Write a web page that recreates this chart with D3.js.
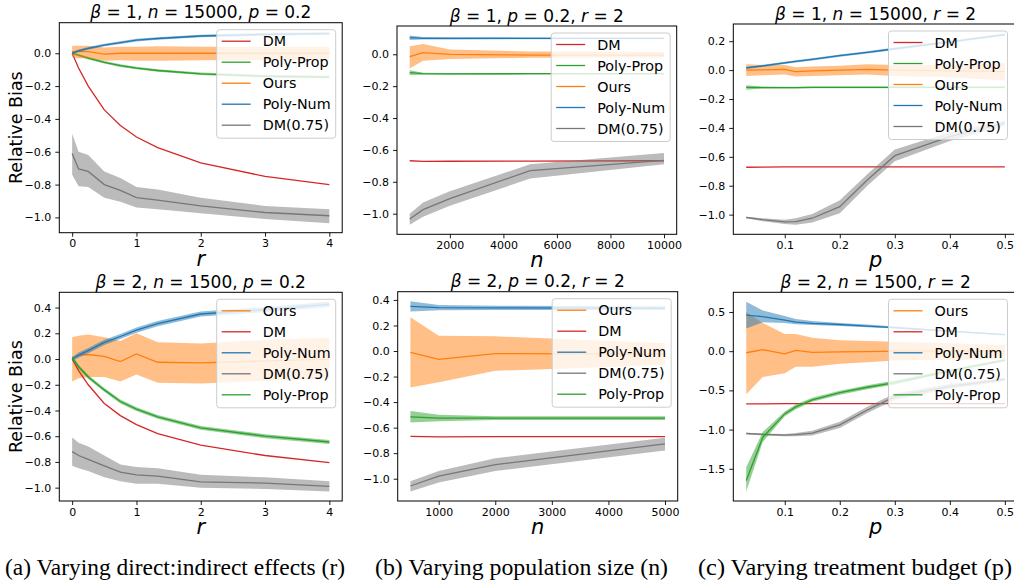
<!DOCTYPE html>
<html>
<head>
<meta charset="utf-8">
<script src="https://cdn.jsdelivr.net/npm/d3@7"></script>
<style>
  body { margin: 0; background: #fff; }
  svg text { font-family: "DejaVu Sans", sans-serif; fill: #000; }
</style>
</head>
<body>
<svg id="fig" width="1014" height="582"></svg>
<script>
// x values
const rVals = [0, 0.1, 0.25, 0.5, 0.75, 1, 1.33, 2, 3, 4];
const nValsTop = [500, 1000, 2000, 5000, 10000];
const nValsBot = [500, 1000, 2000, 5000];
const pVals = [0.03, 0.06, 0.1, 0.12, 0.15, 0.2, 0.25, 0.3, 0.4, 0.5];

// (a) top: beta=1, n=15000, p=0.2
const a1DM = [0, -0.09, -0.2, -0.345, -0.44, -0.51, -0.575, -0.668, -0.75, -0.80];
const a1PP = [0, -0.012, -0.03, -0.055, -0.075, -0.09, -0.105, -0.125, -0.14, -0.145];
const a1PPlo = [-0.008, -0.02, -0.038, -0.063, -0.083, -0.098, -0.113, -0.133, -0.148, -0.153];
const a1PPhi = [0.008, -0.004, -0.022, -0.047, -0.067, -0.082, -0.097, -0.117, -0.132, -0.137];
const a1Ours = [0.01, 0.012, 0.01, -0.005, 0.0, 0.0, 0.0, 0.0, 0.0, 0.0];
const a1OursLo = [-0.025, -0.03, -0.03, -0.045, -0.042, -0.045, -0.045, -0.043, -0.042, -0.042];
const a1OursHi = [0.045, 0.045, 0.045, 0.035, 0.04, 0.04, 0.042, 0.04, 0.04, 0.04];
const a1PN = [0, 0.015, 0.03, 0.05, 0.065, 0.08, 0.09, 0.105, 0.115, 0.12];
const a1PNlo = [-0.008, 0.007, 0.022, 0.042, 0.057, 0.072, 0.082, 0.097, 0.107, 0.112];
const a1PNhi = [0.008, 0.023, 0.038, 0.058, 0.073, 0.088, 0.098, 0.113, 0.123, 0.128];
const a1DM75 = [-0.61, -0.705, -0.72, -0.80, -0.835, -0.88, -0.895, -0.93, -0.97, -0.99];
const a1DM75lo = [-0.74, -0.81, -0.815, -0.88, -0.905, -0.94, -0.95, -0.975, -1.01, -1.035];
const a1DM75hi = [-0.49, -0.60, -0.62, -0.72, -0.76, -0.815, -0.83, -0.88, -0.93, -0.95];

// (b) top: beta=1, p=0.2, r=2
const b1DM = [-0.668, -0.672, -0.671, -0.67, -0.668];
const b1PP = [-0.115, -0.122, -0.123, -0.122, -0.122];
const b1PPlo = [-0.13, -0.128, -0.128, -0.127, -0.127];
const b1PPhi = [-0.10, -0.116, -0.118, -0.117, -0.117];
const b1Ours = [-0.015, 0.01, 0.0, -0.005, -0.005];
const b1OursLo = [-0.09, -0.04, -0.03, -0.022, -0.02];
const b1OursHi = [0.05, 0.065, 0.03, 0.018, 0.015];
const b1PN = [0.105, 0.1, 0.1, 0.1, 0.1];
const b1PNlo = [0.09, 0.093, 0.093, 0.094, 0.094];
const b1PNhi = [0.118, 0.108, 0.107, 0.106, 0.106];
const b1DM75 = [-1.033, -0.975, -0.905, -0.73, -0.665];
const b1DM75lo = [-1.07, -1.02, -0.95, -0.78, -0.69];
const b1DM75hi = [-1.0, -0.93, -0.86, -0.69, -0.62];

// (c) top: beta=1, n=15000, r=2
const c1DM = [-0.672, -0.671, -0.67, -0.67, -0.67, -0.67, -0.67, -0.67, -0.67, -0.67];
const c1PP = [-0.12, -0.121, -0.121, -0.121, -0.12, -0.12, -0.12, -0.12, -0.12, -0.12];
const c1PPlo = [-0.135, -0.128, -0.127, -0.127, -0.126, -0.126, -0.126, -0.126, -0.126, -0.126];
const c1PPhi = [-0.105, -0.114, -0.115, -0.115, -0.114, -0.114, -0.114, -0.114, -0.114, -0.114];
const c1Ours = [0.0, 0.002, 0.005, -0.01, -0.005, 0.0, 0.005, 0.0, -0.005, -0.01];
const c1OursLo = [-0.04, -0.035, -0.03, -0.045, -0.04, -0.035, -0.03, -0.04, -0.05, -0.072];
const c1OursHi = [0.04, 0.035, 0.035, 0.02, 0.025, 0.03, 0.04, 0.035, 0.035, 0.05];
const c1PN = [0.015, 0.03, 0.05, 0.06, 0.075, 0.1, 0.123, 0.148, 0.195, 0.245];
const c1PNlo = [0.007, 0.022, 0.042, 0.052, 0.067, 0.092, 0.115, 0.14, 0.187, 0.237];
const c1PNhi = [0.023, 0.038, 0.058, 0.068, 0.083, 0.108, 0.131, 0.156, 0.203, 0.253];
const c1DM75 = [-1.02, -1.035, -1.05, -1.048, -1.025, -0.945, -0.76, -0.592, -0.46, -0.367];
const c1DM75lo = [-1.025, -1.045, -1.065, -1.07, -1.055, -0.99, -0.8, -0.63, -0.49, -0.385];
const c1DM75hi = [-1.015, -1.025, -1.035, -1.025, -0.995, -0.9, -0.72, -0.55, -0.43, -0.35];

// (a) bottom: beta=2, n=1500, p=0.2
const a2Ours = [0.0, 0.03, 0.035, 0.02, -0.02, 0.04, -0.025, -0.03, -0.015, 0.0];
const a2OursLo = [-0.175, -0.15, -0.14, -0.14, -0.175, -0.12, -0.185, -0.19, -0.17, -0.15];
const a2OursHi = [0.17, 0.18, 0.19, 0.17, 0.14, 0.2, 0.13, 0.12, 0.15, 0.165];
const a2DM = [0, -0.09, -0.2, -0.345, -0.44, -0.51, -0.58, -0.67, -0.75, -0.805];
const a2PN = [0.0, 0.03, 0.065, 0.13, 0.175, 0.225, 0.275, 0.35, 0.385, 0.425];
const a2PNlo = [-0.015, 0.01, 0.045, 0.11, 0.155, 0.205, 0.255, 0.33, 0.365, 0.405];
const a2PNhi = [0.015, 0.05, 0.085, 0.15, 0.195, 0.245, 0.295, 0.37, 0.405, 0.445];
const a2DM75 = [-0.72, -0.75, -0.78, -0.83, -0.88, -0.90, -0.91, -0.955, -0.965, -0.99];
const a2DM75lo = [-0.83, -0.85, -0.87, -0.92, -0.95, -0.97, -0.97, -1.0, -1.01, -1.03];
const a2DM75hi = [-0.61, -0.65, -0.68, -0.75, -0.82, -0.84, -0.85, -0.9, -0.92, -0.95];
const a2PP = [0.01, -0.06, -0.14, -0.24, -0.33, -0.39, -0.45, -0.535, -0.6, -0.645];
const a2PPlo = [-0.005, -0.075, -0.155, -0.255, -0.345, -0.405, -0.465, -0.55, -0.615, -0.66];
const a2PPhi = [0.025, -0.045, -0.125, -0.225, -0.315, -0.375, -0.435, -0.52, -0.585, -0.63];

// (b) bottom: beta=2, p=0.2, r=2
const b2Ours = [-0.01, -0.065, -0.02, -0.025];
const b2OursLo = [-0.285, -0.245, -0.155, -0.11];
const b2OursHi = [0.265, 0.12, 0.115, 0.06];
const b2DM = [-0.668, -0.673, -0.671, -0.67];
const b2PN = [0.35, 0.34, 0.338, 0.335];
const b2PNlo = [0.31, 0.32, 0.322, 0.322];
const b2PNhi = [0.39, 0.36, 0.355, 0.35];
const b2DM75 = [-1.057, -0.98, -0.89, -0.727];
const b2DM75lo = [-1.1, -1.03, -0.94, -0.78];
const b2DM75hi = [-1.02, -0.94, -0.84, -0.68];
const b2PP = [-0.515, -0.525, -0.525, -0.525];
const b2PPlo = [-0.56, -0.55, -0.54, -0.54];
const b2PPhi = [-0.47, -0.5, -0.51, -0.51];

// (c) bottom: beta=2, n=1500, r=2
const c2Ours = [-0.02, 0.02, -0.035, 0.01, -0.015, -0.01, -0.005, 0.0, 0.0, 0.0];
const c2OursLo = [-0.55, -0.33, -0.28, -0.2, -0.2, -0.16, -0.14, -0.12, -0.11, -0.1];
const c2OursHi = [0.5, 0.36, 0.22, 0.22, 0.17, 0.14, 0.13, 0.12, 0.1, 0.08];
const c2DM = [-0.672, -0.671, -0.67, -0.67, -0.67, -0.67, -0.67, -0.67, -0.67, -0.67];
const c2PN = [0.46, 0.44, 0.396, 0.37, 0.355, 0.34, 0.32, 0.3, 0.255, 0.21];
const c2PNlo = [0.29, 0.37, 0.36, 0.345, 0.335, 0.32, 0.305, 0.29, 0.245, 0.2];
const c2PNhi = [0.63, 0.52, 0.45, 0.41, 0.385, 0.36, 0.34, 0.315, 0.265, 0.22];
const c2DM75 = [-1.05, -1.06, -1.07, -1.065, -1.045, -0.94, -0.75, -0.58, -0.45, -0.36];
const c2DM75lo = [-1.06, -1.075, -1.085, -1.085, -1.075, -0.98, -0.79, -0.62, -0.48, -0.38];
const c2DM75hi = [-1.04, -1.05, -1.055, -1.045, -1.015, -0.9, -0.71, -0.54, -0.42, -0.34];
const c2PP = [-1.65, -1.1, -0.8, -0.71, -0.62, -0.53, -0.46, -0.4, -0.25, -0.115];
const c2PPlo = [-1.79, -1.16, -0.83, -0.74, -0.645, -0.555, -0.485, -0.425, -0.27, -0.13];
const c2PPhi = [-1.48, -1.03, -0.77, -0.68, -0.595, -0.505, -0.435, -0.375, -0.23, -0.1];

// tick labels
const rTicks = [0, 1, 2, 3, 4];
const nTicksTop = [2000, 4000, 6000, 8000, 10000];
const nTicksBot = [1000, 2000, 3000, 4000, 5000];
const pTicks = [0.1, 0.2, 0.3, 0.4, 0.5];
const yTicks1 = [0, -0.2, -0.4, -0.6, -0.8, -1.0];
const yTicks3 = [0.2, 0, -0.2, -0.4, -0.6, -0.8, -1.0];
const yTicks4 = [0.4, 0.2, 0, -0.2, -0.4, -0.6, -0.8, -1.0];
const yTicks6 = [0.5, 0, -0.5, -1.0, -1.5];

const captions = ["(a) Varying direct:indirect effects (r)", "(b) Varying population size (n)", "(c) Varying treatment budget (p)"];

const colours = {
  "DM": "#d62728", "Poly-Prop": "#2ca02c", "Ours": "#ff7f0e",
  "Poly-Num": "#1f77b4", "DM(0.75)": "#777777"
};

const svg = d3.select("#fig");

function S(name, mean, lo, hi) { return { name, mean, lo, hi }; }

const panels = [
  { box: [59.3, 342.2, 22.7, 232.7], xs: rVals, xTicks: rTicks, xFmt: d3.format("d"), yTicks: yTicks1, yFmt: d3.format(".1f"),
    title: [["β", 1], [" = 1, ", 0], ["n", 1], [" = 15000, ", 0], ["p", 1], [" = 0.2", 0]], xLabel: "r", yLabel: true,
    series: [S("DM", a1DM), S("Poly-Prop", a1PP, a1PPlo, a1PPhi), S("Ours", a1Ours, a1OursLo, a1OursHi),
             S("Poly-Num", a1PN, a1PNlo, a1PNhi), S("DM(0.75)", a1DM75, a1DM75lo, a1DM75hi)] },
  { box: [397.0, 676.7, 26, 234.3], xs: nValsTop, xTicks: nTicksTop, xFmt: d3.format("d"), yTicks: yTicks1, yFmt: d3.format(".1f"),
    title: [["β", 1], [" = 1, ", 0], ["p", 1], [" = 0.2, ", 0], ["r", 1], [" = 2", 0]], xLabel: "n", yLabel: false,
    series: [S("DM", b1DM), S("Poly-Prop", b1PP, b1PPlo, b1PPhi), S("Ours", b1Ours, b1OursLo, b1OursHi),
             S("Poly-Num", b1PN, b1PNlo, b1PNhi), S("DM(0.75)", b1DM75, b1DM75lo, b1DM75hi)] },
  { box: [733.3, 1017.8, 24, 234.3], xs: pVals, xTicks: pTicks, xFmt: d3.format(".1f"), yTicks: yTicks3, yFmt: d3.format(".1f"),
    title: [["β", 1], [" = 1, ", 0], ["n", 1], [" = 15000, ", 0], ["r", 1], [" = 2", 0]], xLabel: "p", yLabel: false,
    series: [S("DM", c1DM), S("Poly-Prop", c1PP, c1PPlo, c1PPhi), S("Ours", c1Ours, c1OursLo, c1OursHi),
             S("Poly-Num", c1PN, c1PNlo, c1PNhi), S("DM(0.75)", c1DM75, c1DM75lo, c1DM75hi)] },
  { box: [59.3, 342.2, 292.3, 501], xs: rVals, xTicks: rTicks, xFmt: d3.format("d"), yTicks: yTicks4, yFmt: d3.format(".1f"),
    title: [["β", 1], [" = 2, ", 0], ["n", 1], [" = 1500, ", 0], ["p", 1], [" = 0.2", 0]], xLabel: "r", yLabel: true,
    series: [S("Ours", a2Ours, a2OursLo, a2OursHi), S("DM", a2DM), S("Poly-Num", a2PN, a2PNlo, a2PNhi),
             S("DM(0.75)", a2DM75, a2DM75lo, a2DM75hi), S("Poly-Prop", a2PP, a2PPlo, a2PPhi)] },
  { box: [397.7, 677.7, 291.7, 501], xs: nValsBot, xTicks: nTicksBot, xFmt: d3.format("d"), yTicks: yTicks4, yFmt: d3.format(".1f"),
    title: [["β", 1], [" = 2, ", 0], ["p", 1], [" = 0.2, ", 0], ["r", 1], [" = 2", 0]], xLabel: "n", yLabel: false,
    series: [S("Ours", b2Ours, b2OursLo, b2OursHi), S("DM", b2DM), S("Poly-Num", b2PN, b2PNlo, b2PNhi),
             S("DM(0.75)", b2DM75, b2DM75lo, b2DM75hi), S("Poly-Prop", b2PP, b2PPlo, b2PPhi)] },
  { box: [733.3, 1017.8, 292.3, 501], xs: pVals, xTicks: pTicks, xFmt: d3.format(".1f"), yTicks: yTicks6, yFmt: d3.format(".1f"),
    title: [["β", 1], [" = 2, ", 0], ["n", 1], [" = 1500, ", 0], ["r", 1], [" = 2", 0]], xLabel: "p", yLabel: false,
    series: [S("Ours", c2Ours, c2OursLo, c2OursHi), S("DM", c2DM), S("Poly-Num", c2PN, c2PNlo, c2PNhi),
             S("DM(0.75)", c2DM75, c2DM75lo, c2DM75hi), S("Poly-Prop", c2PP, c2PPlo, c2PPhi)] }
];

const minus = s => s.replace("-", "\u2212");

panels.forEach((p, idx) => {
  const [x0, x1, y0, y1] = p.box;
  const g = svg.append("g");

  // matplotlib-like 5% margins
  const [xMin, xMax] = d3.extent(p.xs);
  const xPad = (xMax - xMin) * 0.05;
  const x = d3.scaleLinear().domain([xMin - xPad, xMax + xPad]).range([x0, x1]);
  const allY = p.series.flatMap(s => s.mean.concat(s.lo || [], s.hi || []));
  const [yMin, yMax] = d3.extent(allY);
  const yPad = (yMax - yMin) * 0.05;
  const y = d3.scaleLinear().domain([yMin - yPad, yMax + yPad]).range([y1, y0]);

  const clipId = "clip" + idx;
  g.append("clipPath").attr("id", clipId)
    .append("rect").attr("x", x0).attr("y", y0).attr("width", x1 - x0).attr("height", y1 - y0);

  const plot = g.append("g").attr("clip-path", `url(#${clipId})`);
  p.series.forEach(s => {
    const col = colours[s.name];
    if (s.lo) {
      const area = d3.area()
        .x((d, i) => x(p.xs[i]))
        .y0((d, i) => y(s.lo[i]))
        .y1((d, i) => y(s.hi[i]));
      plot.append("path").datum(s.mean).attr("d", area)
        .attr("fill", col).attr("fill-opacity", 0.5).attr("stroke", "none");
    }
    const line = d3.line().x((d, i) => x(p.xs[i])).y(d => y(d));
    plot.append("path").datum(s.mean).attr("d", line)
      .attr("fill", "none").attr("stroke", col).attr("stroke-width", 1.3);
  });

  // axes
  const xAxis = d3.axisBottom(x).tickValues(p.xTicks).tickSize(4).tickPadding(3).tickFormat(p.xFmt);
  const yAxis = d3.axisLeft(y).tickValues(p.yTicks).tickSize(4).tickPadding(4).tickFormat(d => minus(p.yFmt(d)));
  const gx = g.append("g").attr("transform", `translate(0,${y1})`).call(xAxis);
  const gy = g.append("g").attr("transform", `translate(${x0},0)`).call(yAxis);
  [gx, gy].forEach(a => {
    a.select(".domain").remove();
    a.selectAll("line").attr("stroke", "#000").attr("stroke-width", 0.9);
    a.selectAll("text").attr("font-size", 11).attr("font-family", "DejaVu Sans").attr("fill", "#000");
  });

  // frame
  g.append("rect").attr("x", x0).attr("y", y0).attr("width", x1 - x0).attr("height", y1 - y0)
    .attr("fill", "none").attr("stroke", "#000").attr("stroke-width", 1);

  // title
  const t = g.append("text").attr("x", (x0 + x1) / 2).attr("y", y0 - 4.5)
    .attr("text-anchor", "middle").attr("font-size", 17);
  p.title.forEach(([txt, it]) => t.append("tspan").text(txt).attr("font-style", it ? "italic" : "normal"));

  // x label
  g.append("text").attr("x", (x0 + x1) / 2).attr("y", y1 + 33)
    .attr("text-anchor", "middle").attr("font-size", 21).attr("font-style", "italic").text(p.xLabel);

  if (p.yLabel) {
    g.append("text").attr("transform", `translate(21.5,${(y0 + y1) / 2}) rotate(-90)`)
      .attr("text-anchor", "middle").attr("font-size", 17.5).text("Relative Bias");
  }

  // legend
  const lw = 119, rowH = 21;
  const lx = Math.min(x1, 1014) - 6.5 - lw;
  const ly = y0 + 7;
  const leg = g.append("g");
  leg.append("rect").attr("x", lx).attr("y", ly).attr("width", lw).attr("height", rowH * 5 + 3.5)
    .attr("rx", 3).attr("fill", "#fff").attr("fill-opacity", 0.8)
    .attr("stroke", "#cccccc").attr("stroke-width", 1);
  p.series.forEach((s, i) => {
    const cy = ly + 11.5 + i * rowH;
    leg.append("line").attr("x1", lx + 5).attr("x2", lx + 34).attr("y1", cy).attr("y2", cy)
      .attr("stroke", colours[s.name]).attr("stroke-width", 1.3);
    leg.append("text").attr("x", lx + 46).attr("y", cy).attr("dy", "0.35em")
      .attr("font-size", 14.3).text(s.name);
  });
});

// captions
const capX = [5, 375, 698];
const capW = [340, 293, 314];
captions.forEach((c, i) => {
  svg.append("text").attr("x", capX[i]).attr("y", 575)
    .attr("font-size", 24)
    .attr("textLength", capW[i]).attr("lengthAdjust", "spacingAndGlyphs")
    .style("font-family", "'Liberation Serif', serif").text(c);
});
</script>
</body>
</html>
